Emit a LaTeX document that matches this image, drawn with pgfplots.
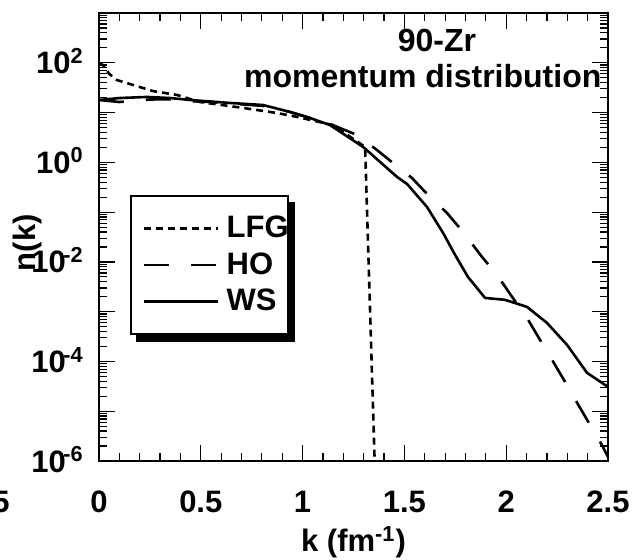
\documentclass[border=0pt]{standalone}
\usepackage{fontspec}
\setmainfont{Liberation Sans}
\usepackage{pgfplots}
\pgfplotsset{compat=1.18}
\usetikzlibrary{backgrounds}

\newcommand{\fs}{\fontsize{15.5}{18}\selectfont\bfseries}

\begin{document}
\begin{tikzpicture}
  \begin{axis}[
      scale only axis,
      width=254.5pt,
      height=224pt,
      ymode=log,
      xmin=0, xmax=2.5,
      ymin=1e-6, ymax=1e3,
      xtick={0,0.5,1,1.5,2,2.5},
      xticklabels={0,0.5,1,1.5,2,2.5},
      minor x tick num=4,
      ytick={1e-6,1e-5,1e-4,1e-3,1e-2,1e-1,1,1e1,1e2,1e3},
      yticklabels={10\textsuperscript{\kern-0.12em-6},,10\textsuperscript{\kern-0.12em-4},,10\textsuperscript{\kern-0.12em-2},,10\textsuperscript{0},,10\textsuperscript{2},},
      major tick length=8pt,
      minor tick length=4pt,
      axis line style={line width=0.8pt},
      every tick/.style={black, line width=0.6pt},
      tick label style={font=\fs},
      /pgf/number format/assume math mode=true,
      xticklabel style={anchor=center, yshift=-20.5pt},
      yticklabel style={anchor=base east, inner sep=0pt, xshift=-7.5pt, yshift=-5.5pt},
      xlabel={k (fm\textsuperscript{-1})},
      xlabel style={at={(axis description cs:0.5,-0.181)}, anchor=center, font=\fs},
      ylabel={n(k)},
      ylabel style={at={(axis description cs:-0.14,0.487)}, anchor=center, font=\fs},
      clip mode=individual,
      legend style={
        name=leg,
        at={(axis description cs:0.061,0.594)},
        anchor=north west,
        draw=black,
        line width=1pt,
        fill=white,
        font=\fs,
        inner xsep=6pt,
        inner ysep=9pt,
        row sep=4pt,
        nodes={inner sep=1pt},
        legend cell align=left
      },
      legend image code/.code={\draw[#1] (0pt,0pt) -- (37pt,0pt);}
    ]

    % LFG
    \addplot[black, line width=1.3pt, dash pattern=on 3.5pt off 2.5pt] coordinates {
      (0,99) (0.02,90) (0.05,60) (0.088,45) (0.138,39) (0.265,27) (0.383,22.6)
      (0.496,16.3) (0.707,12.4) (0.874,9.8) (0.972,8.2) (1.149,5.6) (1.307,2.04)
      (1.356,5e-7)
    };
    \addlegendentry{\makebox[26pt][l]{\hspace{2.5pt}LFG}}

    % HO
    \addplot[black, line width=1.3pt, dash pattern=on 12.5pt off 11pt] coordinates {
      (0,17.9) (0.1,16.3) (0.25,18.3) (0.34,18.5) (0.45,16.9) (0.55,16.3)
      (0.805,13.6) (0.938,10.3) (1.036,7.8) (1.135,5.9) (1.267,3.55) (1.365,1.77)
      (1.444,0.97) (1.537,0.486) (1.616,0.221) (1.709,0.0964) (1.788,0.040)
      (1.881,0.0126) (1.955,0.00548) (2.029,0.00198) (2.102,7.5e-4) (2.166,2.72e-4)
      (2.225,1.08e-4) (2.289,3.9e-5) (2.348,1.48e-5) (2.412,5.3e-6) (2.470,2.1e-6)
      (2.5,1.21e-6)
    };
    \addlegendentry{\makebox[26pt][l]{\hspace{2.5pt}HO}}

    % WS
    \addplot[black, line width=1.3pt, line join=round] coordinates {
      (0,17.9) (0.103,19.6) (0.236,20.6) (0.349,19.6) (0.447,17.9) (0.643,15.6)
      (0.805,14.2) (0.938,10.3) (1.036,7.8) (1.135,5.6) (1.297,2.04) (1.464,0.509)
      (1.513,0.368) (1.611,0.127) (1.690,0.0382) (1.749,0.0138) (1.812,0.0050)
      (1.896,0.00189) (1.994,0.00173) (2.102,0.00125) (2.200,5.96e-4) (2.299,2.15e-4)
      (2.397,5.9e-5) (2.5,3.09e-5)
    };
    \addlegendentry{\makebox[26pt][l]{\hspace{2.5pt}WS}}

    \node[font=\fontsize{16}{18}\selectfont\bfseries, anchor=base] at (axis description cs:0.664,0.913) {90-Zr};
    \node[font=\fontsize{16}{18}\selectfont\bfseries, anchor=base] at (axis description cs:0.636,0.833) {momentum distribution};
    \node[font=\fs, anchor=east, inner sep=0pt] at (axis description cs:-0.175,-0.0915) {-0.5};
  \end{axis}
  % shadow of the legend box
  \begin{scope}[on background layer]
    \fill[black] ([shift={(3pt,-3.5pt)}]leg.south west) rectangle ([shift={(3pt,-3.5pt)}]leg.north east);
  \end{scope}
  \pgfresetboundingbox
  \path[use as bounding box] ([shift={(-49.5pt,-49pt)}]current axis.south west)
    rectangle ([shift={(18pt,6.5pt)}]current axis.north east);
\end{tikzpicture}
\end{document}
